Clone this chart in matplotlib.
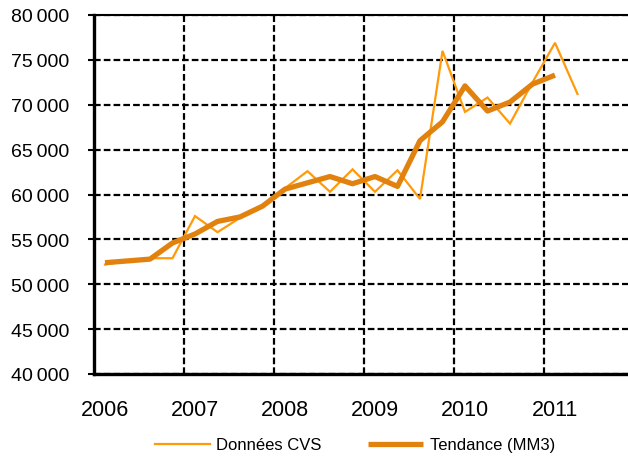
import matplotlib
matplotlib.use("Agg")
import matplotlib.pyplot as plt
from matplotlib.ticker import FixedLocator, FuncFormatter

plt.rcParams['font.family'] = ['Liberation Sans', 'DejaVu Sans']

# quarterly series, first quarter 2006 onward
cvs = [52200, 52600, 52900, 52900, 57600, 55800, 57400, 58700,
       60700, 62600, 60300, 62800, 60300, 62700, 59500, 76000,
       69200, 70800, 67900, 72500, 76900, 71200]
mm3 = [52400, 52600, 52800, 54600, 55600, 57000, 57500, 58700,
       60600, 61300, 62000, 61200, 62000, 60900, 66000, 68100,
       72100, 69300, 70300, 72300, 73300]
years = ["2006", "2007", "2008", "2009", "2010", "2011"]

fig = plt.figure(figsize=(6.28, 4.60), dpi=100)
ax = fig.add_axes([93.75 / 628, 85 / 460, 540 / 628, 359 / 460])

ax.plot(range(len(cvs)), cvs, color="#FF9A0A", lw=1.6, label="Données CVS",
        solid_joinstyle="miter", zorder=3)
ax.plot(range(len(mm3)), mm3, color="#E2820E", lw=3.8, label="Tendance (MM3)",
        solid_joinstyle="round", solid_capstyle="butt", zorder=4)

ax.set_xlim(-0.5, 23.5)
ax.set_ylim(40000, 80000)

ax.xaxis.set_major_locator(FixedLocator([0, 4, 8, 12, 16, 20]))
ax.set_xticklabels(years, fontsize=15.5)
ax.xaxis.set_minor_locator(FixedLocator([3.5, 7.5, 11.5, 15.5, 19.5]))
ax.tick_params(axis="x", which="both", length=0, pad=18)

# thousands split by a thin space: "80 000"
ax.set_yticks(range(40000, 80001, 5000))
ax.yaxis.set_major_formatter(FuncFormatter(lambda v, p: f"{int(v):,}".replace(",", "\u2009")))
ax.tick_params(axis="y", length=4, width=1.5, labelsize=14, pad=13.5)

dash = dict(color="black", lw=1.6, linestyle=(0, (3, 1.4)))
ax.grid(True, axis="y", which="major", **dash)
ax.grid(True, axis="x", which="minor", **dash)
ax.set_axisbelow(True)

for side in ["left", "bottom"]:
    ax.spines[side].set_linewidth(2.4)
ax.spines["top"].set_linewidth(1.5)
ax.spines["right"].set_visible(False)

fig.legend(loc="center", bbox_to_anchor=(355 / 628, 1 - 446 / 460), ncol=2,
           frameon=False, fontsize=12, handlelength=3.3, columnspacing=2.8,
           handletextpad=0.4)

fig.savefig("out.png", dpi=100)
